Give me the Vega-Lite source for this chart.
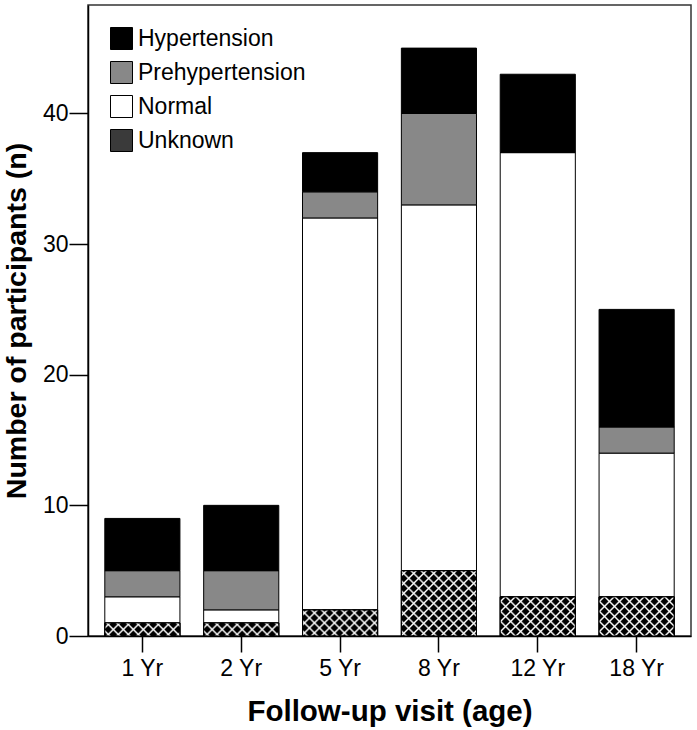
{
  "$schema": "https://vega.github.io/schema/vega-lite/v6.json",
  "width": 603,
  "height": 631,
  "autosize": "none",
  "padding": {"left": 88, "top": 5, "right": 6, "bottom": 94},
  "background": "white",
  "config": {
    "font": "Liberation Sans",
    "view": {"stroke": "#333333", "strokeWidth": 1.5},
    "axis": {
      "domainColor": "black",
      "domainWidth": 1.5,
      "tickColor": "black",
      "tickWidth": 1.5,
      "labelColor": "black",
      "titleColor": "black",
      "grid": false,
      "labelFont": "Liberation Sans",
      "titleFont": "Liberation Sans"
    }
  },
  "data": {
    "values": [
      {"age": "1 Yr", "status": "Unknown", "n": 1},
      {"age": "1 Yr", "status": "Normal", "n": 2},
      {"age": "1 Yr", "status": "Prehypertension", "n": 2},
      {"age": "1 Yr", "status": "Hypertension", "n": 4},
      {"age": "2 Yr", "status": "Unknown", "n": 1},
      {"age": "2 Yr", "status": "Normal", "n": 1},
      {"age": "2 Yr", "status": "Prehypertension", "n": 3},
      {"age": "2 Yr", "status": "Hypertension", "n": 5},
      {"age": "5 Yr", "status": "Unknown", "n": 2},
      {"age": "5 Yr", "status": "Normal", "n": 30},
      {"age": "5 Yr", "status": "Prehypertension", "n": 2},
      {"age": "5 Yr", "status": "Hypertension", "n": 3},
      {"age": "8 Yr", "status": "Unknown", "n": 5},
      {"age": "8 Yr", "status": "Normal", "n": 28},
      {"age": "8 Yr", "status": "Prehypertension", "n": 7},
      {"age": "8 Yr", "status": "Hypertension", "n": 5},
      {"age": "12 Yr", "status": "Unknown", "n": 3},
      {"age": "12 Yr", "status": "Normal", "n": 34},
      {"age": "12 Yr", "status": "Hypertension", "n": 6},
      {"age": "18 Yr", "status": "Unknown", "n": 3},
      {"age": "18 Yr", "status": "Normal", "n": 11},
      {"age": "18 Yr", "status": "Prehypertension", "n": 2},
      {"age": "18 Yr", "status": "Hypertension", "n": 9}
    ]
  },
  "encoding": {
    "x": {
      "field": "age",
      "type": "nominal",
      "sort": ["1 Yr", "2 Yr", "5 Yr", "8 Yr", "12 Yr", "18 Yr"],
      "scale": {"paddingInner": 0.24, "paddingOuter": 0.17},
      "axis": {
        "title": "Follow-up visit (age)",
        "labelAngle": 0,
        "labelFontSize": 23,
        "labelPadding": 5,
        "tickSize": 16,
        "titleFontSize": 29.5,
        "titleFontWeight": "bold",
        "titlePadding": 17
      }
    },
    "y": {
      "field": "n",
      "type": "quantitative",
      "scale": {"domain": [0, 48.3], "nice": false},
      "axis": {
        "title": "Number of participants (n)",
        "values": [0, 10, 20, 30, 40],
        "labelFontSize": 23,
        "labelPadding": 1,
        "tickSize": 19,
        "titleFontSize": 28.5,
        "titleFontWeight": "bold",
        "titlePadding": 11
      }
    }
  },
  "layer": [
    {
      "transform": [
        {"calculate": "indexof(['Unknown','Normal','Prehypertension','Hypertension'], datum.status)", "as": "stackorder"}
      ],
      "mark": {"type": "bar", "stroke": "black", "strokeWidth": 1, "opacity": 1},
      "encoding": {
        "y": {
          "field": "n",
          "type": "quantitative",
          "stack": "zero",
          "scale": {"domain": [0, 48.3], "nice": false},
          "axis": {
            "title": "Number of participants (n)",
            "values": [0, 10, 20, 30, 40],
            "labelFontSize": 23,
            "labelPadding": 1,
            "tickSize": 19,
            "titleFontSize": 28.5,
            "titleFontWeight": "bold",
            "titlePadding": 11
          }
        },
        "color": {
          "field": "status",
          "type": "nominal",
          "scale": {
            "domain": ["Hypertension", "Prehypertension", "Normal", "Unknown"],
            "range": ["#000000", "#888888", "#ffffff", "#3a3a3a"]
          },
          "legend": {
            "title": null,
            "orient": "top-left",
            "offset": 22,
            "padding": 0,
            "symbolType": "square",
            "symbolSize": 484,
            "symbolStrokeColor": "black",
            "symbolStrokeWidth": 1,
            "symbolOpacity": 1,
            "labelFontSize": 23,
            "labelColor": "black",
            "labelOffset": 5,
            "labelLimit": 0,
            "rowPadding": 7
          }
        },
        "order": {"field": "stackorder", "type": "quantitative"}
      }
    },
    {
      "transform": [{"filter": "datum.status === 'Unknown'"}],
      "mark": {"type": "bar", "stroke": "black", "strokeWidth": 1, "opacity": 1},
      "encoding": {
        "fill": {
          "condition": [
            {
              "test": "datum.n === 1",
              "value": {
                "gradient": "linear", "x1": 0, "y1": 0, "x2": 1.1394, "y2": 0.19807,
                "stops": [
                  {"offset": 0, "color": "#000000"},
                  {"offset": 0.0340, "color": "#000000"}, {"offset": 0.0567, "color": "#ffffff"}, {"offset": 0.0794, "color": "#000000"},
                  {"offset": 0.1474, "color": "#000000"}, {"offset": 0.1701, "color": "#ffffff"}, {"offset": 0.1928, "color": "#000000"},
                  {"offset": 0.2608, "color": "#000000"}, {"offset": 0.2835, "color": "#ffffff"}, {"offset": 0.3062, "color": "#000000"},
                  {"offset": 0.3742, "color": "#000000"}, {"offset": 0.3969, "color": "#ffffff"}, {"offset": 0.4195, "color": "#000000"},
                  {"offset": 0.4876, "color": "#000000"}, {"offset": 0.5103, "color": "#ffffff"}, {"offset": 0.5329, "color": "#000000"},
                  {"offset": 0.6010, "color": "#000000"}, {"offset": 0.6237, "color": "#ffffff"}, {"offset": 0.6463, "color": "#000000"},
                  {"offset": 0.7144, "color": "#000000"}, {"offset": 0.7370, "color": "#ffffff"}, {"offset": 0.7597, "color": "#000000"},
                  {"offset": 0.8278, "color": "#000000"}, {"offset": 0.8504, "color": "#ffffff"}, {"offset": 0.8731, "color": "#000000"},
                  {"offset": 0.9411, "color": "#000000"}, {"offset": 0.9638, "color": "#ffffff"}, {"offset": 0.9865, "color": "#000000"},
                  {"offset": 1, "color": "#000000"}
                ]
              }
            },
            {
              "test": "datum.n === 2",
              "value": {
                "gradient": "linear", "x1": 0, "y1": 0, "x2": 1.20236, "y2": 0.41818,
                "stops": [
                  {"offset": 0, "color": "#000000"},
                  {"offset": 0.0296, "color": "#000000"}, {"offset": 0.0494, "color": "#ffffff"}, {"offset": 0.0691, "color": "#000000"},
                  {"offset": 0.1284, "color": "#000000"}, {"offset": 0.1481, "color": "#ffffff"}, {"offset": 0.1679, "color": "#000000"},
                  {"offset": 0.2271, "color": "#000000"}, {"offset": 0.2469, "color": "#ffffff"}, {"offset": 0.2666, "color": "#000000"},
                  {"offset": 0.3259, "color": "#000000"}, {"offset": 0.3456, "color": "#ffffff"}, {"offset": 0.3654, "color": "#000000"},
                  {"offset": 0.4246, "color": "#000000"}, {"offset": 0.4444, "color": "#ffffff"}, {"offset": 0.4642, "color": "#000000"},
                  {"offset": 0.5234, "color": "#000000"}, {"offset": 0.5432, "color": "#ffffff"}, {"offset": 0.5629, "color": "#000000"},
                  {"offset": 0.6222, "color": "#000000"}, {"offset": 0.6419, "color": "#ffffff"}, {"offset": 0.6617, "color": "#000000"},
                  {"offset": 0.7209, "color": "#000000"}, {"offset": 0.7407, "color": "#ffffff"}, {"offset": 0.7604, "color": "#000000"},
                  {"offset": 0.8197, "color": "#000000"}, {"offset": 0.8394, "color": "#ffffff"}, {"offset": 0.8592, "color": "#000000"},
                  {"offset": 0.9184, "color": "#000000"}, {"offset": 0.9382, "color": "#ffffff"}, {"offset": 0.9580, "color": "#000000"},
                  {"offset": 1, "color": "#000000"}
                ]
              }
            },
            {
              "test": "datum.n === 3",
              "value": {
                "gradient": "linear", "x1": 0, "y1": 0, "x2": 1.19616, "y2": 0.62396,
                "stops": [
                  {"offset": 0, "color": "#000000"},
                  {"offset": 0.0262, "color": "#000000"}, {"offset": 0.0437, "color": "#ffffff"}, {"offset": 0.0612, "color": "#000000"},
                  {"offset": 0.1137, "color": "#000000"}, {"offset": 0.1312, "color": "#ffffff"}, {"offset": 0.1487, "color": "#000000"},
                  {"offset": 0.2012, "color": "#000000"}, {"offset": 0.2187, "color": "#ffffff"}, {"offset": 0.2362, "color": "#000000"},
                  {"offset": 0.2887, "color": "#000000"}, {"offset": 0.3062, "color": "#ffffff"}, {"offset": 0.3237, "color": "#000000"},
                  {"offset": 0.3761, "color": "#000000"}, {"offset": 0.3936, "color": "#ffffff"}, {"offset": 0.4111, "color": "#000000"},
                  {"offset": 0.4636, "color": "#000000"}, {"offset": 0.4811, "color": "#ffffff"}, {"offset": 0.4986, "color": "#000000"},
                  {"offset": 0.5511, "color": "#000000"}, {"offset": 0.5686, "color": "#ffffff"}, {"offset": 0.5861, "color": "#000000"},
                  {"offset": 0.6386, "color": "#000000"}, {"offset": 0.6561, "color": "#ffffff"}, {"offset": 0.6736, "color": "#000000"},
                  {"offset": 0.7260, "color": "#000000"}, {"offset": 0.7435, "color": "#ffffff"}, {"offset": 0.7610, "color": "#000000"},
                  {"offset": 0.8135, "color": "#000000"}, {"offset": 0.8310, "color": "#ffffff"}, {"offset": 0.8485, "color": "#000000"},
                  {"offset": 0.9010, "color": "#000000"}, {"offset": 0.9185, "color": "#ffffff"}, {"offset": 0.9360, "color": "#000000"},
                  {"offset": 1, "color": "#000000"}
                ]
              }
            },
            {
              "test": "datum.n === 5",
              "value": {
                "gradient": "linear", "x1": 0, "y1": 0, "x2": 1.06466, "y2": 0.92564,
                "stops": [
                  {"offset": 0, "color": "#000000"},
                  {"offset": 0.0214, "color": "#000000"}, {"offset": 0.0356, "color": "#ffffff"}, {"offset": 0.0498, "color": "#000000"},
                  {"offset": 0.0926, "color": "#000000"}, {"offset": 0.1068, "color": "#ffffff"}, {"offset": 0.1210, "color": "#000000"},
                  {"offset": 0.1638, "color": "#000000"}, {"offset": 0.1780, "color": "#ffffff"}, {"offset": 0.1922, "color": "#000000"},
                  {"offset": 0.2350, "color": "#000000"}, {"offset": 0.2492, "color": "#ffffff"}, {"offset": 0.2634, "color": "#000000"},
                  {"offset": 0.3062, "color": "#000000"}, {"offset": 0.3204, "color": "#ffffff"}, {"offset": 0.3346, "color": "#000000"},
                  {"offset": 0.3774, "color": "#000000"}, {"offset": 0.3916, "color": "#ffffff"}, {"offset": 0.4058, "color": "#000000"},
                  {"offset": 0.4486, "color": "#000000"}, {"offset": 0.4628, "color": "#ffffff"}, {"offset": 0.4770, "color": "#000000"},
                  {"offset": 0.5198, "color": "#000000"}, {"offset": 0.5340, "color": "#ffffff"}, {"offset": 0.5482, "color": "#000000"},
                  {"offset": 0.5910, "color": "#000000"}, {"offset": 0.6052, "color": "#ffffff"}, {"offset": 0.6194, "color": "#000000"},
                  {"offset": 0.6622, "color": "#000000"}, {"offset": 0.6764, "color": "#ffffff"}, {"offset": 0.6906, "color": "#000000"},
                  {"offset": 0.7334, "color": "#000000"}, {"offset": 0.7476, "color": "#ffffff"}, {"offset": 0.7618, "color": "#000000"},
                  {"offset": 0.8046, "color": "#000000"}, {"offset": 0.8188, "color": "#ffffff"}, {"offset": 0.8330, "color": "#000000"},
                  {"offset": 0.8758, "color": "#000000"}, {"offset": 0.8900, "color": "#ffffff"}, {"offset": 0.9042, "color": "#000000"},
                  {"offset": 0.9470, "color": "#000000"}, {"offset": 0.9612, "color": "#ffffff"}, {"offset": 0.9754, "color": "#000000"},
                  {"offset": 1, "color": "#000000"}
                ]
              }
            }
          ],
          "value": "#000000"
        }
      }
    },
    {
      "transform": [{"filter": "datum.status === 'Unknown'"}],
      "mark": {"type": "bar", "stroke": "black", "strokeWidth": 1, "opacity": 1},
      "encoding": {
        "fill": {
          "condition": [
            {
              "test": "datum.n === 1",
              "value": {
                "gradient": "linear", "x1": 0, "y1": 1, "x2": 1.1394, "y2": 0.80193,
                "stops": [
                  {"offset": 0, "color": "rgba(255,255,255,0)"},
                  {"offset": 0.0340, "color": "rgba(255,255,255,0)"}, {"offset": 0.0567, "color": "#ffffff"}, {"offset": 0.0794, "color": "rgba(255,255,255,0)"},
                  {"offset": 0.1474, "color": "rgba(255,255,255,0)"}, {"offset": 0.1701, "color": "#ffffff"}, {"offset": 0.1928, "color": "rgba(255,255,255,0)"},
                  {"offset": 0.2608, "color": "rgba(255,255,255,0)"}, {"offset": 0.2835, "color": "#ffffff"}, {"offset": 0.3062, "color": "rgba(255,255,255,0)"},
                  {"offset": 0.3742, "color": "rgba(255,255,255,0)"}, {"offset": 0.3969, "color": "#ffffff"}, {"offset": 0.4195, "color": "rgba(255,255,255,0)"},
                  {"offset": 0.4876, "color": "rgba(255,255,255,0)"}, {"offset": 0.5103, "color": "#ffffff"}, {"offset": 0.5329, "color": "rgba(255,255,255,0)"},
                  {"offset": 0.6010, "color": "rgba(255,255,255,0)"}, {"offset": 0.6237, "color": "#ffffff"}, {"offset": 0.6463, "color": "rgba(255,255,255,0)"},
                  {"offset": 0.7144, "color": "rgba(255,255,255,0)"}, {"offset": 0.7370, "color": "#ffffff"}, {"offset": 0.7597, "color": "rgba(255,255,255,0)"},
                  {"offset": 0.8278, "color": "rgba(255,255,255,0)"}, {"offset": 0.8504, "color": "#ffffff"}, {"offset": 0.8731, "color": "rgba(255,255,255,0)"},
                  {"offset": 0.9411, "color": "rgba(255,255,255,0)"}, {"offset": 0.9638, "color": "#ffffff"}, {"offset": 0.9865, "color": "rgba(255,255,255,0)"},
                  {"offset": 1, "color": "rgba(255,255,255,0)"}
                ]
              }
            },
            {
              "test": "datum.n === 2",
              "value": {
                "gradient": "linear", "x1": 0, "y1": 1, "x2": 1.20236, "y2": 0.58182,
                "stops": [
                  {"offset": 0, "color": "rgba(255,255,255,0)"},
                  {"offset": 0.0296, "color": "rgba(255,255,255,0)"}, {"offset": 0.0494, "color": "#ffffff"}, {"offset": 0.0691, "color": "rgba(255,255,255,0)"},
                  {"offset": 0.1284, "color": "rgba(255,255,255,0)"}, {"offset": 0.1481, "color": "#ffffff"}, {"offset": 0.1679, "color": "rgba(255,255,255,0)"},
                  {"offset": 0.2271, "color": "rgba(255,255,255,0)"}, {"offset": 0.2469, "color": "#ffffff"}, {"offset": 0.2666, "color": "rgba(255,255,255,0)"},
                  {"offset": 0.3259, "color": "rgba(255,255,255,0)"}, {"offset": 0.3456, "color": "#ffffff"}, {"offset": 0.3654, "color": "rgba(255,255,255,0)"},
                  {"offset": 0.4246, "color": "rgba(255,255,255,0)"}, {"offset": 0.4444, "color": "#ffffff"}, {"offset": 0.4642, "color": "rgba(255,255,255,0)"},
                  {"offset": 0.5234, "color": "rgba(255,255,255,0)"}, {"offset": 0.5432, "color": "#ffffff"}, {"offset": 0.5629, "color": "rgba(255,255,255,0)"},
                  {"offset": 0.6222, "color": "rgba(255,255,255,0)"}, {"offset": 0.6419, "color": "#ffffff"}, {"offset": 0.6617, "color": "rgba(255,255,255,0)"},
                  {"offset": 0.7209, "color": "rgba(255,255,255,0)"}, {"offset": 0.7407, "color": "#ffffff"}, {"offset": 0.7604, "color": "rgba(255,255,255,0)"},
                  {"offset": 0.8197, "color": "rgba(255,255,255,0)"}, {"offset": 0.8394, "color": "#ffffff"}, {"offset": 0.8592, "color": "rgba(255,255,255,0)"},
                  {"offset": 0.9184, "color": "rgba(255,255,255,0)"}, {"offset": 0.9382, "color": "#ffffff"}, {"offset": 0.9580, "color": "rgba(255,255,255,0)"},
                  {"offset": 1, "color": "rgba(255,255,255,0)"}
                ]
              }
            },
            {
              "test": "datum.n === 3",
              "value": {
                "gradient": "linear", "x1": 0, "y1": 1, "x2": 1.19616, "y2": 0.37604,
                "stops": [
                  {"offset": 0, "color": "rgba(255,255,255,0)"},
                  {"offset": 0.0262, "color": "rgba(255,255,255,0)"}, {"offset": 0.0437, "color": "#ffffff"}, {"offset": 0.0612, "color": "rgba(255,255,255,0)"},
                  {"offset": 0.1137, "color": "rgba(255,255,255,0)"}, {"offset": 0.1312, "color": "#ffffff"}, {"offset": 0.1487, "color": "rgba(255,255,255,0)"},
                  {"offset": 0.2012, "color": "rgba(255,255,255,0)"}, {"offset": 0.2187, "color": "#ffffff"}, {"offset": 0.2362, "color": "rgba(255,255,255,0)"},
                  {"offset": 0.2887, "color": "rgba(255,255,255,0)"}, {"offset": 0.3062, "color": "#ffffff"}, {"offset": 0.3237, "color": "rgba(255,255,255,0)"},
                  {"offset": 0.3761, "color": "rgba(255,255,255,0)"}, {"offset": 0.3936, "color": "#ffffff"}, {"offset": 0.4111, "color": "rgba(255,255,255,0)"},
                  {"offset": 0.4636, "color": "rgba(255,255,255,0)"}, {"offset": 0.4811, "color": "#ffffff"}, {"offset": 0.4986, "color": "rgba(255,255,255,0)"},
                  {"offset": 0.5511, "color": "rgba(255,255,255,0)"}, {"offset": 0.5686, "color": "#ffffff"}, {"offset": 0.5861, "color": "rgba(255,255,255,0)"},
                  {"offset": 0.6386, "color": "rgba(255,255,255,0)"}, {"offset": 0.6561, "color": "#ffffff"}, {"offset": 0.6736, "color": "rgba(255,255,255,0)"},
                  {"offset": 0.7260, "color": "rgba(255,255,255,0)"}, {"offset": 0.7435, "color": "#ffffff"}, {"offset": 0.7610, "color": "rgba(255,255,255,0)"},
                  {"offset": 0.8135, "color": "rgba(255,255,255,0)"}, {"offset": 0.8310, "color": "#ffffff"}, {"offset": 0.8485, "color": "rgba(255,255,255,0)"},
                  {"offset": 0.9010, "color": "rgba(255,255,255,0)"}, {"offset": 0.9185, "color": "#ffffff"}, {"offset": 0.9360, "color": "rgba(255,255,255,0)"},
                  {"offset": 1, "color": "rgba(255,255,255,0)"}
                ]
              }
            },
            {
              "test": "datum.n === 5",
              "value": {
                "gradient": "linear", "x1": 0, "y1": 1, "x2": 1.06466, "y2": 0.07436,
                "stops": [
                  {"offset": 0, "color": "rgba(255,255,255,0)"},
                  {"offset": 0.0214, "color": "rgba(255,255,255,0)"}, {"offset": 0.0356, "color": "#ffffff"}, {"offset": 0.0498, "color": "rgba(255,255,255,0)"},
                  {"offset": 0.0926, "color": "rgba(255,255,255,0)"}, {"offset": 0.1068, "color": "#ffffff"}, {"offset": 0.1210, "color": "rgba(255,255,255,0)"},
                  {"offset": 0.1638, "color": "rgba(255,255,255,0)"}, {"offset": 0.1780, "color": "#ffffff"}, {"offset": 0.1922, "color": "rgba(255,255,255,0)"},
                  {"offset": 0.2350, "color": "rgba(255,255,255,0)"}, {"offset": 0.2492, "color": "#ffffff"}, {"offset": 0.2634, "color": "rgba(255,255,255,0)"},
                  {"offset": 0.3062, "color": "rgba(255,255,255,0)"}, {"offset": 0.3204, "color": "#ffffff"}, {"offset": 0.3346, "color": "rgba(255,255,255,0)"},
                  {"offset": 0.3774, "color": "rgba(255,255,255,0)"}, {"offset": 0.3916, "color": "#ffffff"}, {"offset": 0.4058, "color": "rgba(255,255,255,0)"},
                  {"offset": 0.4486, "color": "rgba(255,255,255,0)"}, {"offset": 0.4628, "color": "#ffffff"}, {"offset": 0.4770, "color": "rgba(255,255,255,0)"},
                  {"offset": 0.5198, "color": "rgba(255,255,255,0)"}, {"offset": 0.5340, "color": "#ffffff"}, {"offset": 0.5482, "color": "rgba(255,255,255,0)"},
                  {"offset": 0.5910, "color": "rgba(255,255,255,0)"}, {"offset": 0.6052, "color": "#ffffff"}, {"offset": 0.6194, "color": "rgba(255,255,255,0)"},
                  {"offset": 0.6622, "color": "rgba(255,255,255,0)"}, {"offset": 0.6764, "color": "#ffffff"}, {"offset": 0.6906, "color": "rgba(255,255,255,0)"},
                  {"offset": 0.7334, "color": "rgba(255,255,255,0)"}, {"offset": 0.7476, "color": "#ffffff"}, {"offset": 0.7618, "color": "rgba(255,255,255,0)"},
                  {"offset": 0.8046, "color": "rgba(255,255,255,0)"}, {"offset": 0.8188, "color": "#ffffff"}, {"offset": 0.8330, "color": "rgba(255,255,255,0)"},
                  {"offset": 0.8758, "color": "rgba(255,255,255,0)"}, {"offset": 0.8900, "color": "#ffffff"}, {"offset": 0.9042, "color": "rgba(255,255,255,0)"},
                  {"offset": 0.9470, "color": "rgba(255,255,255,0)"}, {"offset": 0.9612, "color": "#ffffff"}, {"offset": 0.9754, "color": "rgba(255,255,255,0)"},
                  {"offset": 1, "color": "rgba(255,255,255,0)"}
                ]
              }
            }
          ],
          "value": "rgba(255,255,255,0)"
        }
      }
    }
  ]
}
